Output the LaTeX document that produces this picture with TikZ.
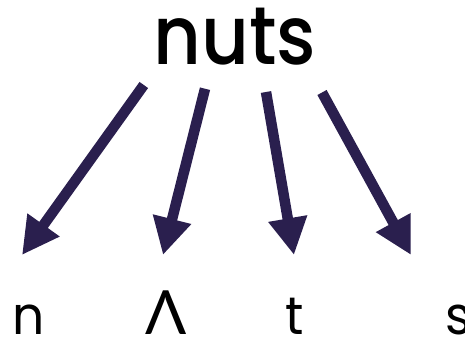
\documentclass[tikz,border=0pt]{standalone}
\usepackage{fontspec}
\setmainfont{Poppins}
\newfontfamily\nutsfont[FakeStretch=0.9]{Poppins Medium}
\newfontfamily\letfont[FakeStretch=0.95]{Poppins}
\newfontfamily\greekfont{Lato}
\usetikzlibrary{arrows.meta}
\definecolor{arrowcol}{HTML}{2A1F4E}
\begin{document}
\begin{tikzpicture}[x=1pt,y=-1pt,
  word/.style={inner sep=0pt, anchor=base, font=\nutsfont\fontsize{82}{82}\selectfont},
  sound/.style={inner sep=0pt, anchor=base, font=\letfont\fontsize{53}{53}\selectfont},
  bigarrow/.style={draw=arrowcol, line width=10.5pt, line cap=butt,
    -{Triangle[length=37pt,width=37pt]}, arrowcol}]
\useasboundingbox (0,0) rectangle (465,339);
\node[word] (nuts) at (235,65) {nuts};
\node[sound] (n) at (28.5,334) {n};
\node[sound, font=\greekfont\fontsize{61}{61}\selectfont] (lam) at (166,334) {Λ};
\node[sound] (t) at (295,334) {t};
\node[sound] (s) at (459,334) {s};
\coordinate (t1) at (143.8,85);
\coordinate (t2) at (205,88.7);
\coordinate (t3) at (266,92);
\coordinate (t4) at (322,92.5);
\coordinate (h1) at (22,255);
\coordinate (h2) at (163,255);
\coordinate (h3) at (294,255);
\coordinate (h4) at (411,255);
\draw[bigarrow] (t1) -- (h1);
\draw[bigarrow] (t2) -- (h2);
\draw[bigarrow] (t3) -- (h3);
\draw[bigarrow] (t4) -- (h4);
\end{tikzpicture}
\end{document}
